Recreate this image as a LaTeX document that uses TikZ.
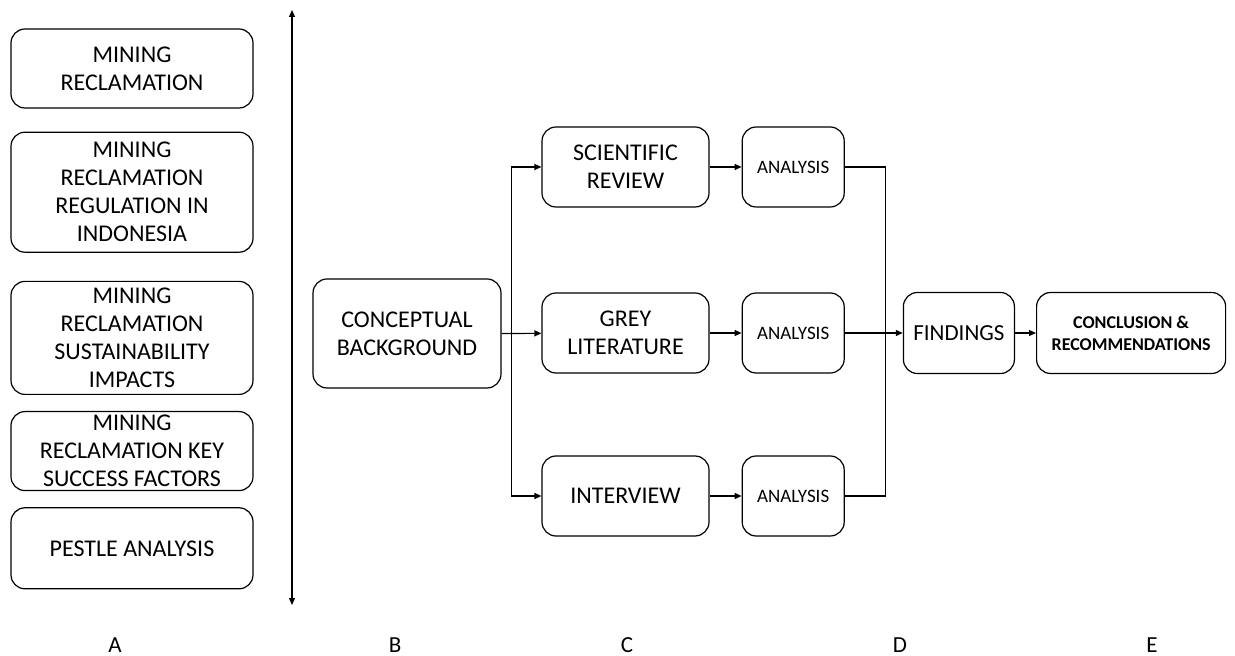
\documentclass[tikz,border=0pt]{standalone}
\usepackage{fontspec}
\setmainfont{Carlito}
\usepackage{tikz}
\usetikzlibrary{
arrows.meta,
positioning,
calc
}

\begin{document}
\begin{tikzpicture}[
node distance=8pt,
box/.style={
draw,
line width=0.6pt,
rounded corners=7pt,
inner sep=0pt,
align=center,
font=\fontsize{12}{14}\selectfont
},
topic/.style={box,minimum width=121pt},
source/.style={box,minimum width=83.5pt,minimum height=40pt},
anabox/.style={box,minimum width=51pt,minimum height=40pt,font=\fontsize{9.5}{11}\selectfont},
letter/.style={font=\fontsize{11.5}{13}\selectfont},
arrow/.style={->,>={Triangle[length=3.5pt,width=3pt]},line width=0.6pt}
]
\useasboundingbox (0,0) rectangle (617.5pt,-328pt);

% column A
\node[topic,minimum height=39.5pt] (recl) at (66pt,-34.25pt) {MINING\\RECLAMATION};
\node[topic,minimum height=60pt,below=11.5pt of recl] (regul) {MINING\\RECLAMATION\\REGULATION IN\\INDONESIA};
\node[topic,minimum height=56.5pt,below=14pt of regul] (sustain) {MINING\\RECLAMATION\\SUSTAINABILITY\\IMPACTS};
\node[topic,minimum height=39.5pt,below=8pt of sustain] (keyfac) {MINING\\RECLAMATION KEY\\SUCCESS FACTORS};
\node[topic,minimum height=40.5pt,below=8pt of keyfac] (pestle) {PESTLE ANALYSIS};

\coordinate (axtop) at (146pt,-5pt);
\coordinate (axbot) at (146pt,-302.5pt);
\draw[arrow,<->] (axtop) -- (axbot);

% column B
\node[box,minimum width=94pt,minimum height=54.5pt] (concept) at (203.5pt,-166.75pt) {CONCEPTUAL\\BACKGROUND};

% column C
\node[source] (sci) at (312.75pt,-83.5pt) {SCIENTIFIC\\REVIEW};
\node[source] (grey) at (312.75pt,-166.5pt) {GREY\\LITERATURE};
\node[source] (inter) at (312.75pt,-248pt) {INTERVIEW};

\node[anabox,right=16pt of sci] (ana1) {ANALYSIS};
\node[anabox,right=16pt of grey] (ana2) {ANALYSIS};
\node[anabox,right=16pt of inter] (ana3) {ANALYSIS};

% column D and E
\node[box,minimum width=55.5pt,minimum height=40.5pt,font=\fontsize{11.5}{13}\selectfont,right=29pt of ana2] (find) {FINDINGS};
\node[box,minimum width=94.5pt,minimum height=40.5pt,font=\bfseries\fontsize{9}{11}\selectfont,right=10.5pt of find] (concl) {CONCLUSION \&\\RECOMMENDATIONS};

\coordinate[right=5pt of concept.east] (split);
\coordinate[right=20.5pt of ana2.east] (merge);

\draw[arrow] (concept.east) -- (grey);
\draw[arrow] (split) |- (sci.west);
\draw[arrow] (split) |- (inter.west);

\draw[arrow] (sci) -- (ana1);
\draw[arrow] (grey) -- (ana2);
\draw[arrow] (inter) -- (ana3);

\draw[line width=0.6pt] (ana1.east) -| (merge) |- (ana3.east);
\draw[arrow] (ana2) -- (find);
\draw[arrow] (find) -- (concl);

% letters
\node[letter] (labA) at (57.5pt,-322.75pt) {A};
\node[letter] (labB) at (197.5pt,-322.75pt) {B};
\node[letter] (labC) at (313.5pt,-322.75pt) {C};
\node[letter] (labD) at (450pt,-322.75pt) {D};
\node[letter] (labE) at (576pt,-322.75pt) {E};

\end{tikzpicture}
\end{document}
